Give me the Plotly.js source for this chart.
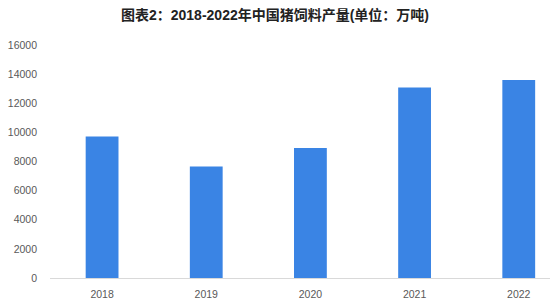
<!DOCTYPE html>
<html><head><meta charset="utf-8">
<script src="https://cdn.plot.ly/plotly-3.0.1.min.js"></script>
<style>html,body{margin:0;padding:0;background:#fff}#c{width:550px;height:306px}</style>
</head><body><div id="c"></div>
<script>
const years = ['2018','2019','2020','2021','2022'];
const output = [9720, 7663, 8923, 13077, 13597];
const yTicks = [0,2000,4000,6000,8000,10000,12000,14000,16000];
const yTickText = ['0','2000','4000','6000','8000','10000','12000','14000','16000'];

Plotly.newPlot('c', [{
  type:'bar', x: years, y: output,
  marker:{color:'#3a84e4'}, hoverinfo:'none'
}], {
  width:550, height:306,
  margin:{l:50, r:0, t:45, b:28},
  paper_bgcolor:'#fff', plot_bgcolor:'#fff',
  bargap:0.685,
  title:{text:'<b>图表2：2018-2022年中国猪饲料产量(单位：万吨)</b>', x:0.5, xanchor:'center', y:0.95, yanchor:'middle',
    font:{family:'Arial, "Noto Sans CJK SC", sans-serif', size:14, color:'#222'}},
  xaxis:{type:'category', range:[-0.5,4.3], showgrid:false, showline:true, linecolor:'#d9d9d9', linewidth:1,
    ticks:'', tickfont:{family:'"Liberation Sans", Arial, sans-serif', size:10.5, color:'#595959'}, zeroline:false, ticklabelstandoff:6},
  yaxis:{range:[0,16000], tickvals:yTicks, ticktext:yTickText, showgrid:false, showline:false, zeroline:false, ticks:'',
    tickfont:{family:'"Liberation Sans", Arial, sans-serif', size:10.5, color:'#595959'}, ticklabelstandoff:12},
  showlegend:false
}, {displayModeBar:false, staticPlot:true});
</script></body></html>
